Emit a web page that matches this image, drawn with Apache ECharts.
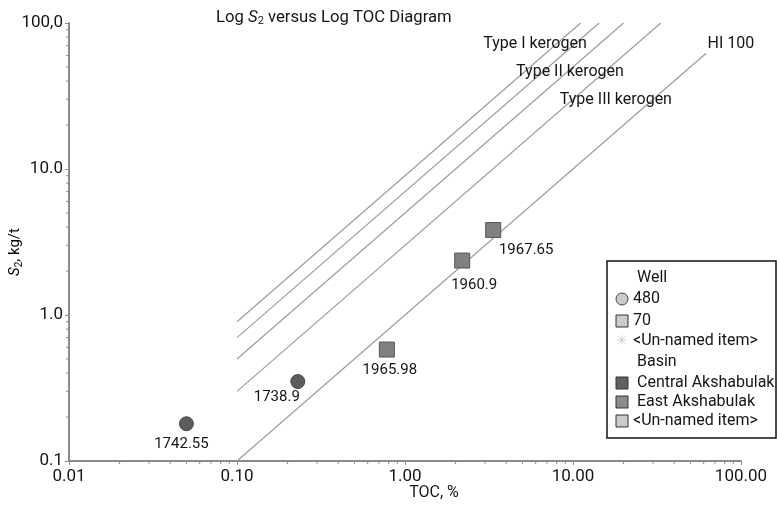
<!DOCTYPE html>
<html>
<head>
<meta charset="utf-8">
<script src="https://cdn.jsdelivr.net/npm/echarts@6/dist/echarts.min.js"></script>
<style>
  html, body { margin: 0; padding: 0; background: #fff; }
  #chart { width: 777px; height: 507px; }
</style>
</head>
<body>
<div id="chart"></div>
<script>
// Font used for every text element
const FONT = 'Roboto, "Noto Sans", sans-serif';

// Axis tick labels (log decades)
const xTickValues = [0.01, 0.1, 1, 10, 100];
const xTickLabels = ['0.01', '0.10', '1.00', '10.00', '100.00'];
const yTickValues = [0.1, 1, 10, 100];
const yTickLabels = ['0.1', '1.0', '10.0', '100,0'];

// Samples: Central Akshabulak (well 480, circles)
const centralTOC = [0.05, 0.23];
const centralS2 = [0.18, 0.35];
const centralDepth = ['1742.55', '1738.9'];

// Samples: East Akshabulak (well 70, squares)
const eastTOC = [0.78, 2.19, 3.35];
const eastS2 = [0.58, 2.36, 3.82];
const eastDepth = ['1965.98', '1960.9', '1967.65'];

// Hydrogen-index reference lines: HI value, TOC start, TOC end
const hiValues = [100, 300, 500, 700, 900];
const hiStartTOC = [0.1, 0.1, 0.1, 0.1, 0.1];
const hiEndTOC = [62, 33.3, 20, 14.3, 11.1];

// Zone labels and their anchor positions (TOC, S2)
const zoneNames = ['Type I kerogen', 'Type II kerogen', 'Type III kerogen', 'HI 100'];
const zoneTOC = [5.94, 9.6, 18.0, 87];
const zoneS2 = [71.3, 45.9, 29.6, 71.3];

// Minor tick values (2..9 per decade)
const minorMult = [2, 3, 4, 5, 6, 7, 8, 9];
const xDecades = [0.01, 0.1, 1, 10];
const yDecades = [0.1, 1, 10];

const xMinor = [];
xDecades.forEach(d => minorMult.forEach(m => xMinor.push(+(d * m).toPrecision(3))));
const yMinor = [];
yDecades.forEach(d => minorMult.forEach(m => yMinor.push(+(d * m).toPrecision(3))));

function fmt(values, labels) {
  return function (v) {
    for (let i = 0; i < values.length; i++) {
      if (Math.abs(Math.log10(v) - Math.log10(values[i])) < 1e-6) return labels[i];
    }
    return '';
  };
}

const AXIS_COLOR = '#8a8a8a';
const LINE_COLOR = '#9c9c9c';
const TEXT_COLOR = '#151515';

const series = [];

// HI reference lines
hiValues.forEach((hi, i) => {
  const k = hi / 100;
  series.push({
    type: 'line',
    silent: true,
    symbol: 'none',
    lineStyle: { color: LINE_COLOR, width: 1.2 },
    data: [[hiStartTOC[i], hiStartTOC[i] * k], [hiEndTOC[i], hiEndTOC[i] * k]],
    z: 1
  });
});

// Zone labels
series.push({
  type: 'scatter',
  silent: true,
  symbolSize: 0,
  itemStyle: { opacity: 1 },
  data: zoneTOC.map((x, i) => ({ value: [x, zoneS2[i]], name: zoneNames[i] })),
  label: {
    show: true, position: 'inside', formatter: p => p.name,
    color: TEXT_COLOR, fontFamily: FONT, fontSize: 16
  },
  z: 3
});

// Minor ticks on x axis
series.push({
  type: 'custom',
  silent: true,
  clip: false,
  data: xMinor.map(v => [v, 0.1]),
  renderItem: function (params, api) {
    const p = api.coord([api.value(0), api.value(1)]);
    return { type: 'line', shape: { x1: p[0], y1: p[1], x2: p[0], y2: p[1] + 3 },
      style: { stroke: AXIS_COLOR, lineWidth: 1 } };
  },
  z: 2
});

// Minor ticks on y axis
series.push({
  type: 'custom',
  silent: true,
  clip: false,
  data: yMinor.map(v => [0.01, v]),
  renderItem: function (params, api) {
    const p = api.coord([api.value(0), api.value(1)]);
    return { type: 'line', shape: { x1: p[0] - 3, y1: p[1], x2: p[0], y2: p[1] },
      style: { stroke: AXIS_COLOR, lineWidth: 1 } };
  },
  z: 2
});

// Sample points
const labelStyle = { show: true, color: TEXT_COLOR, fontFamily: FONT, fontSize: 15 };
const centralOffsets = [[-5, 1], [-21, -4]];
const eastOffsets = [[3, 0], [12, 4], [33, 0]];

series.push({
  type: 'scatter',
  name: 'Central Akshabulak',
  symbol: 'circle',
  symbolSize: 14,
  itemStyle: { color: '#5c5c5c', borderColor: '#4a4a4a', borderWidth: 1, opacity: 1 },
  data: centralTOC.map((x, i) => ({
    value: [x, centralS2[i]], name: centralDepth[i],
    label: Object.assign({}, labelStyle, { position: 'bottom', offset: centralOffsets[i], formatter: p => p.name })
  })),
  z: 5
});

series.push({
  type: 'scatter',
  name: 'East Akshabulak',
  symbol: 'rect',
  symbolSize: 15,
  itemStyle: { color: '#808080', borderColor: '#575757', borderWidth: 1, opacity: 1 },
  data: eastTOC.map((x, i) => ({
    value: [x, eastS2[i]], name: eastDepth[i],
    label: Object.assign({}, labelStyle, { position: 'bottom', offset: eastOffsets[i], formatter: p => p.name })
  })),
  z: 5
});

// Legend box (drawn as graphics)
const LX = 607, LY = 261;
const legendRows = [
  { kind: 'header', text: 'Well', y: 278 },
  { kind: 'circle', text: '480', y: 299, fill: '#cacaca' },
  { kind: 'rect', text: '70', y: 321, fill: '#cacaca' },
  { kind: 'star', text: '<Un-named item>', y: 341 },
  { kind: 'header', text: 'Basin', y: 362 },
  { kind: 'rect', text: 'Central Akshabulak', y: 383, fill: '#606060' },
  { kind: 'rect', text: 'East Akshabulak', y: 402, fill: '#8c8c8c' },
  { kind: 'rect', text: '<Un-named item>', y: 421, fill: '#cacaca' }
];
const legendGraphics = [{
  type: 'rect', shape: { x: LX, y: LY, width: 169, height: 177 },
  style: { fill: '#fff', stroke: '#111', lineWidth: 1.5 }, z: 10
}];
legendRows.forEach(r => {
  let tx = 633;
  if (r.kind === 'header') tx = 637;
  if (r.kind === 'circle') {
    legendGraphics.push({ type: 'circle', shape: { cx: 622, cy: r.y, r: 6 },
      style: { fill: r.fill, stroke: '#444', lineWidth: 1 }, z: 11 });
  } else if (r.kind === 'rect') {
    legendGraphics.push({ type: 'rect', shape: { x: 616, y: r.y - 6, width: 12, height: 12 },
      style: { fill: r.fill, stroke: '#333', lineWidth: 1 }, z: 11 });
    if (r.text.indexOf('Akshabulak') >= 0) tx = 637;
  } else if (r.kind === 'star') {
    legendGraphics.push({ type: 'text', style: { text: '✳', x: 622, y: r.y, align: 'center', verticalAlign: 'middle',
      fill: '#cfcfcf', font: '14px ' + FONT }, z: 11 });
  }
  legendGraphics.push({ type: 'text', style: { text: r.text, x: tx, y: r.y, verticalAlign: 'middle',
    fill: TEXT_COLOR, font: '16px ' + FONT }, z: 11 });
});

// Axis titles
const subRich = {
  a: { fontFamily: FONT, fontSize: 15, color: TEXT_COLOR },
  s: { fontFamily: FONT, fontSize: 15, fontStyle: 'italic', color: TEXT_COLOR },
  b: { fontFamily: FONT, fontSize: 10, color: TEXT_COLOR, padding: [8, 0, 0, 0] }
};
const axisTitles = [
  {
    type: 'text', x: 15, y: 252, rotation: Math.PI / 2,
    style: { text: '{s|S}{b|2}{a|, kg/t}', rich: subRich, x: 0, y: 0, align: 'center', verticalAlign: 'middle' },
    z: 5
  },
  {
    type: 'text', x: 434, y: 493,
    style: { text: 'TOC, %', x: 0, y: 0, align: 'center', verticalAlign: 'middle', fill: TEXT_COLOR, font: '16px ' + FONT },
    z: 5
  }
];

const chart = echarts.init(document.getElementById('chart'), null, { renderer: 'canvas' });
chart.setOption({
  animation: false,
  backgroundColor: '#fff',
  title: {
    text: '{a|Log }{s|S}{b|2}{a| versus Log TOC Diagram}',
    left: 211, top: 3,
    textStyle: {
      fontWeight: 'normal',
      rich: {
        a: { fontFamily: FONT, fontSize: 16.7, fontWeight: 'normal', color: TEXT_COLOR },
        s: { fontFamily: FONT, fontSize: 16.7, fontWeight: 'normal', fontStyle: 'italic', color: TEXT_COLOR },
        b: { fontFamily: FONT, fontSize: 11, fontWeight: 'normal', color: TEXT_COLOR, padding: [8, 0, 0, 0] }
      }
    }
  },
  grid: { left: 69, right: 36, top: 23, bottom: 46, containLabel: false, outerBoundsMode: 'none' },
  xAxis: {
    type: 'log', logBase: 10, min: 0.01, max: 100,
    axisLine: { lineStyle: { color: AXIS_COLOR, width: 2 } },
    axisTick: { show: true, length: 4, inside: false, lineStyle: { color: AXIS_COLOR } },
    axisLabel: { formatter: fmt(xTickValues, xTickLabels), fontFamily: FONT, fontSize: 17, color: TEXT_COLOR, margin: 7, showMinLabel: true, showMaxLabel: true },
    splitLine: { show: false }
  },
  yAxis: {
    type: 'log', logBase: 10, min: 0.1, max: 100,
    axisLine: { show: true, lineStyle: { color: AXIS_COLOR, width: 2 } },
    axisTick: { show: true, length: 4, lineStyle: { color: AXIS_COLOR } },
    axisLabel: { formatter: fmt(yTickValues, yTickLabels), fontFamily: FONT, fontSize: 17, color: TEXT_COLOR, margin: 6, showMinLabel: true, showMaxLabel: true },
    splitLine: { show: false }
  },
  graphic: axisTitles.concat(legendGraphics),
  series: series
});
</script>
</body>
</html>
